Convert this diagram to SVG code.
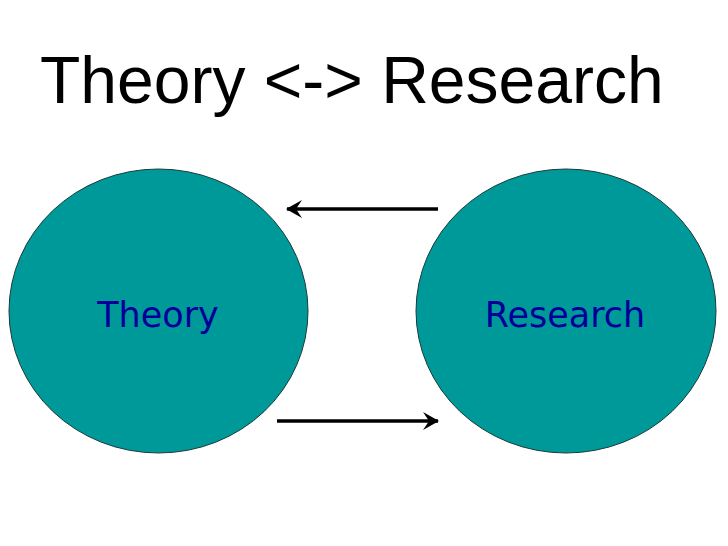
<svg xmlns="http://www.w3.org/2000/svg" width="728" height="546" viewBox="0 0 728 546">
<defs>
<style>
.node{fill:#009999;stroke:#1a3a3a;stroke-width:1}
.lbl{font-family:"DejaVu Sans",Verdana,sans-serif;font-size:35px;fill:#000099;text-anchor:middle}
.title{font-family:"Liberation Sans",Arial,sans-serif;font-size:66px;fill:#000}
.conn{stroke:#000;stroke-width:3.5;fill:none}
</style>
<marker id="ah" viewBox="0 0 16 18" refX="15" refY="9" markerWidth="16" markerHeight="18" markerUnits="userSpaceOnUse" orient="auto">
<path d="M0,0 L16,9 L0,18 L6,9 Z" fill="#000"/>
</marker>
</defs>
<rect width="728" height="546" fill="#fff"/>
<text class="title" x="40" y="103">Theory &lt;-&gt; Research</text>
<g id="theory">
<ellipse class="node" cx="158.5" cy="311" rx="149.5" ry="142"/>
<text class="lbl" x="158" y="327">Theory</text>
</g>
<g id="research">
<ellipse class="node" cx="566" cy="311" rx="150" ry="142"/>
<text class="lbl" x="565" y="327">Research</text>
</g>
<g id="connectors">
<line class="conn" x1="438" y1="209" x2="287" y2="209" marker-end="url(#ah)"/>
<line class="conn" x1="277" y1="421" x2="438" y2="421" marker-end="url(#ah)"/>
</g>
</svg>
